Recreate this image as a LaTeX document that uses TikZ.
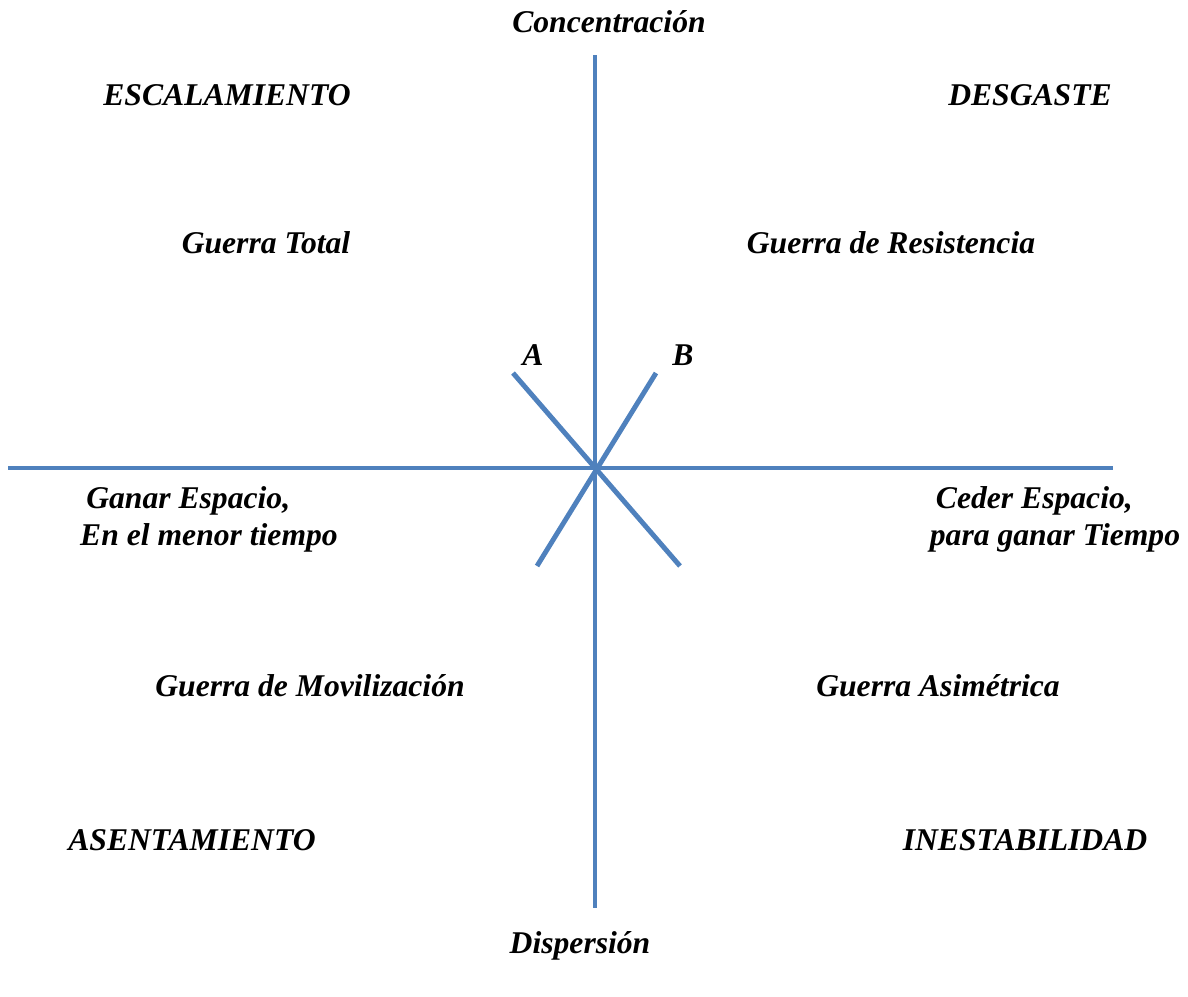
\documentclass[tikz,border=0pt]{standalone}
\usepackage{fontspec}
\setmainfont{Liberation Serif}
\usepackage{tikz}
\usetikzlibrary{positioning}
\definecolor{axisblue}{HTML}{4F81BD}
\tikzset{axis/.style={draw=axisblue, line width=3.5pt}}
\tikzset{lbl/.style={font=\fontsize{22.5}{26.2}\selectfont\bfseries\itshape, inner sep=0pt, align=center}}
\tikzset{lbl2/.style={lbl, align=left}}

\begin{document}
\begin{tikzpicture}[x=0.025cm, y=-0.025cm]
                \useasboundingbox (0,0) rectangle (1188,996);
                % axis ends
                \coordinate (top) at (595,55);
                \coordinate (bot) at (595,908);
                \coordinate (lft) at (8,468);
                \coordinate (rgt) at (1113,468);
                \coordinate (a1) at (513,373);
                \coordinate (a2) at (680,566);
                \coordinate (b1) at (656,373);
                \coordinate (b2) at (537,566);
                %
                \draw[axis] (top) -- (bot);
                \draw[axis] (lft) -- (rgt);
                \draw[axis] (a1) -- (a2);
                \draw[axis] (b1) -- (b2);
                %
                \node[lbl] (conc) at (609,22) {Concentración};
                \node[lbl] (disp) at (580,946) {Dispersión};
                \node[lbl] (esc) at (227,95) {ESCALAMIENTO};
                \node[lbl] (desg) at (1030,95) {DESGASTE};
                \node[lbl] (gt) at (266,243) {Guerra Total};
                \node[lbl] (gr) at (891,243) {Guerra de Resistencia};
                \node[lbl] (A) at (533,355) {A};
                \node[lbl] (B) at (683,355) {B};
                \node[lbl2] (ganar) at (209,519) {\hspace*{0.19em}Ganar Espacio,\\En el menor tiempo};
                \node[lbl2] (ceder) at (1055,519) {\hspace*{0.19em}Ceder Espacio,\\para ganar Tiempo};
                \node[lbl] (gm) at (310,686) {Guerra de Movilización};
                \node[lbl] (ga) at (938,686) {Guerra Asimétrica};
                \node[lbl] (asen) at (192,840) {ASENTAMIENTO};
                \node[lbl] (ines) at (1025,840) {INESTABILIDAD};
                %
            \end{tikzpicture}
\end{document}
